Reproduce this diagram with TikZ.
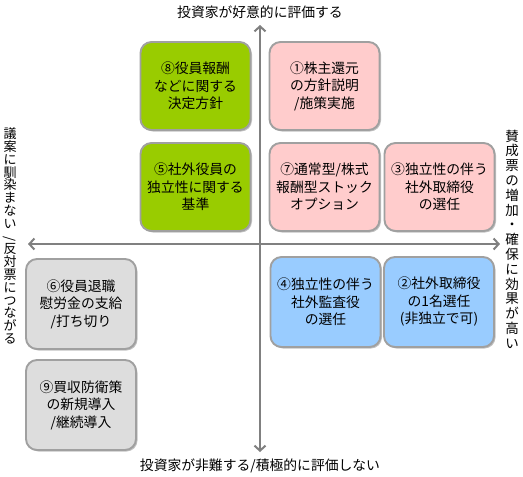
\documentclass[tikz,border=0pt]{standalone}
\usepackage{fontspec}
\setmainfont{Noto Sans CJK JP}
\usetikzlibrary{arrows.meta,shadows}
\definecolor{cgreen}{HTML}{99CC00}
\definecolor{cpink}{HTML}{FFCCCC}
\definecolor{cblue}{HTML}{99CCFF}
\definecolor{cgray}{HTML}{DDDDDD}
\definecolor{cborder}{HTML}{A0A0A0}
\definecolor{caxis}{HTML}{808080}
\begin{document}
\begin{tikzpicture}[x=1pt,y=-1pt,
  qbox/.style={draw=cborder, line width=1.9pt, rounded corners=11pt,
    minimum width=110pt, minimum height=88pt, inner sep=2pt, align=center,
    font=\fontsize{13.8}{17.5}\selectfont,
    drop shadow={shadow xshift=1.5pt, shadow yshift=-1.5pt, fill=black!40, opacity=.6}},
  axis/.style={draw=caxis, line width=2pt, {Straight Barb[length=5pt,width=11pt]}-{Straight Barb[length=5pt,width=11pt]}},
  lbl/.style={font=\fontsize{13.8}{16}\selectfont, inner sep=0pt},
  vlbl/.style={align=center, inner sep=0pt}]
\useasboundingbox[fill=white] (0,0) rectangle (523,477);
% axes
\coordinate (top) at (260,25);
\coordinate (bot) at (260,452);
\coordinate (lft) at (28,244);
\coordinate (rgt) at (500,244);
\draw[axis] (top) -- (bot);
\draw[axis] (lft) -- (rgt);
% boxes
\node[qbox, fill=cgreen] (b8) at (195.5,86) {⑧役員報酬\\などに関する\\決定方針};
\node[qbox, fill=cpink] (b1) at (324.5,86) {①株主還元\\の方針説明\\/施策実施};
\node[qbox, fill=cgreen] (b5) at (195.5,187) {⑤社外役員の\\独立性に関する\\基準};
\node[qbox, fill=cpink] (b7) at (324.5,187) {⑦通常型/株式\\報酬型ストック\\オプション};
\node[qbox, fill=cpink] (b3) at (439.5,187) {③独立性の伴う\\社外取締役\\の選任};
\node[qbox, fill=cgray, minimum height=90pt] (b6) at (81,304) {⑥役員退職\\慰労金の支給\\/打ち切り};
\node[qbox, fill=cgray, minimum height=90pt] (b9) at (81,405) {⑨買収防衛策\\の新規導入\\/継続導入};
\node[qbox, fill=cblue, minimum height=90pt] (b4) at (325.5,302) {④独立性の伴う\\社外監査役\\の選任};
\node[qbox, fill=cblue, minimum height=90pt] (b2) at (439,302) {②社外取締役\\の1名選任\\(非独立で可)};
% labels
\node[lbl] (ttop) at (260,12) {投資家が好意的に評価する};
\node[lbl] (tbot) at (260,466) {投資家が非難する/積極的に評価しない};
\node[vlbl, font=\fontsize{13}{12.8}\selectfont] (tleft) at (10,236)
  {議\\案\\に\\馴\\染\\ま\\な\\い\\\rotatebox{90}{/}\\反\\対\\票\\に\\つ\\な\\が\\る};
\node[vlbl, font=\fontsize{13.5}{14.8}\selectfont] (tright) at (512,239)
  {賛\\成\\票\\の\\増\\加\\・\\確\\保\\に\\効\\果\\が\\高\\い};
\end{tikzpicture}
\end{document}
